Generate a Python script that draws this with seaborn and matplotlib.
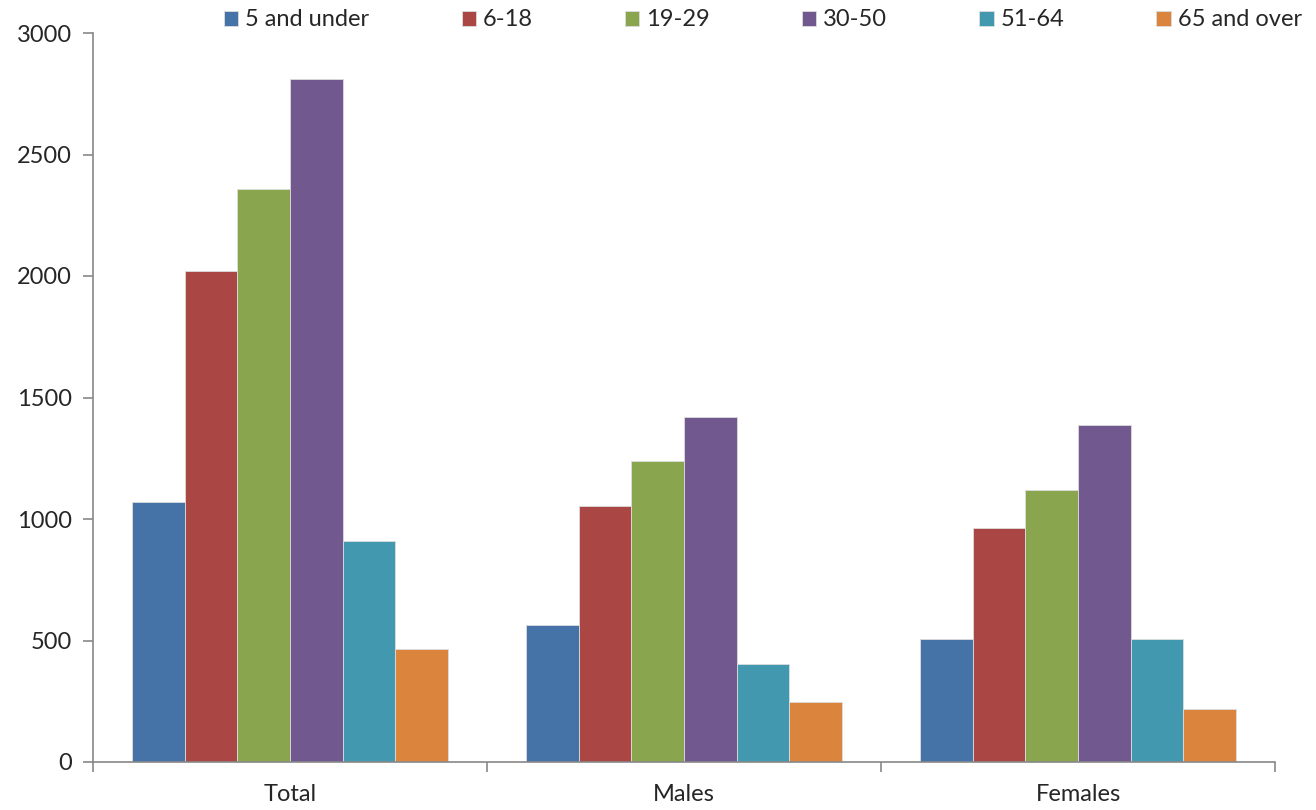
import matplotlib.pyplot as plt
import pandas as pd
import seaborn as sns

groups = ["Total", "Males", "Females"]
ages = ["5 and under", "6-18", "19-29", "30-50", "51-64", "65 and over"]
total = [1070, 2020, 2360, 2810, 910, 465]
males = [562, 1055, 1240, 1420, 405, 248]
females = [508, 965, 1120, 1388, 508, 220]
colors = ["#4572A7", "#AA4643", "#89A54E", "#71588F", "#4198AF", "#DB843D"]

rows = []
for g, vals in zip(groups, [total, males, females]):
    for a, v in zip(ages, vals):
        rows.append({"group": g, "age": a, "count": v})
df = pd.DataFrame(rows)

sns.set_style("white")
plt.rcParams["font.family"] = ["Lato", "DejaVu Sans"]

fig = plt.figure(figsize=(13.16, 8.10), dpi=100)
ax = fig.add_axes([93 / 1316, 48 / 810, 1182 / 1316, 729 / 810])

sns.barplot(data=df, x="group", y="count", hue="age", order=groups,
            hue_order=ages, palette=colors, width=0.8, saturation=1,
            edgecolor="#dddddd", linewidth=0.6, ax=ax)

ax.set_ylim(0, 3000)
ax.set_yticks(range(0, 3001, 500))
ax.set_xlim(-0.5, 2.5)
ax.set_xticks([-0.5, 0.5, 1.5, 2.5])
ax.set_xticklabels([])
ax.set_xticks([0, 1, 2], minor=True)
ax.set_xticklabels(groups, minor=True)
ax.tick_params(axis="x", which="major", bottom=True, length=7, width=1.2,
               color="#888888", direction="out")
ax.tick_params(axis="x", which="minor", bottom=True, length=0, pad=16, labelsize=17)
ax.tick_params(axis="y", left=True, length=7, width=1.2, color="#888888",
               direction="out", labelsize=17, pad=8)
ax.set_xlabel("")
ax.set_ylabel("")

for side in ["top", "right"]:
    ax.spines[side].set_visible(False)
for side in ["left", "bottom"]:
    ax.spines[side].set_color("#888888")
    ax.spines[side].set_linewidth(1.2)

ax.legend(loc="center", bbox_to_anchor=(763 / 1316, 790 / 810), bbox_transform=fig.transFigure,
          ncol=6, frameon=False, fontsize=17, handlelength=0.6, handleheight=0.6,
          handletextpad=0.3, columnspacing=3.9, borderaxespad=0)

fig.savefig("out.png", dpi=100)
